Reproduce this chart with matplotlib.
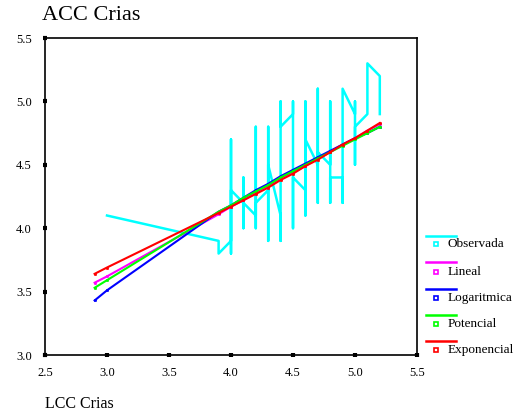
import matplotlib
matplotlib.use("Agg")
import matplotlib.pyplot as plt
from matplotlib.lines import Line2D

plt.rcParams['font.family'] = ['Liberation Serif', 'DejaVu Serif']

# Observed cases (LCC, ACC), in the order SPSS joins them
obs_x = [3.0,
         3.9, 3.9,
         4.0, 4.0, 4.0, 4.0,
         4.1, 4.1, 4.1, 4.1,
         4.2, 4.2, 4.2, 4.2,
         4.3, 4.3, 4.3, 4.3,
         4.4, 4.4, 4.4, 4.4,
         4.5, 4.5, 4.5, 4.5,
         4.6, 4.6, 4.6, 4.6,
         4.7, 4.7, 4.7, 4.7,
         4.8, 4.8, 4.8, 4.8,
         4.9, 4.9, 4.9,
         5.0, 5.0, 5.0, 5.0,
         5.1, 5.1,
         5.2, 5.2]
obs_y = [4.1,
         3.9, 3.8,
         3.9, 4.7, 3.8, 4.3,
         4.2, 4.4, 4.0, 4.2,
         4.1, 4.8, 4.0, 4.2,
         4.3, 4.8, 3.9, 4.5,
         4.1, 3.9, 5.0, 4.8,
         4.9, 5.0, 4.0, 4.4,
         4.3, 5.0, 4.1, 4.7,
         4.5, 5.1, 4.2, 4.6,
         4.5, 5.0, 4.2, 4.4,
         4.4, 4.2, 5.1,
         4.9, 5.0, 4.5, 4.8,
         4.9, 5.3,
         5.2, 4.9]

# Fitted values
fit_x = [2.9, 3.0, 3.9, 4.0, 4.1, 4.2, 4.3, 4.4, 4.5, 4.6, 4.7, 4.8, 4.9, 5.0, 5.1, 5.2]
lineal = [3.57, 3.62, 4.11, 4.17, 4.22, 4.28, 4.33, 4.39, 4.44, 4.49, 4.55, 4.60, 4.66, 4.71, 4.77, 4.82]
logaritmica = [3.43, 3.51, 4.13, 4.18, 4.24, 4.30, 4.35, 4.41, 4.46, 4.51, 4.56, 4.61, 4.66, 4.71, 4.75, 4.80]
potencial = [3.53, 3.59, 4.13, 4.18, 4.24, 4.29, 4.34, 4.40, 4.45, 4.50, 4.55, 4.60, 4.65, 4.70, 4.75, 4.80]
exponencial = [3.64, 3.69, 4.12, 4.17, 4.22, 4.27, 4.32, 4.38, 4.43, 4.49, 4.54, 4.60, 4.66, 4.71, 4.77, 4.83]

nombres = ['Observada', 'Lineal', 'Logaritmica', 'Potencial', 'Exponencial']
colores = ['#00ffff', '#ff00ff', '#0000ff', '#00ff00', '#ff0000']

fig = plt.figure(figsize=(5.21, 4.15), dpi=100)
ax = fig.add_axes([45/521, 60/415, 372/521, 317/415])

ax.plot(obs_x, obs_y, color=colores[0], lw=1.8)
for ys, c in zip([lineal, logaritmica, potencial, exponencial], colores[1:]):
    ax.plot(fit_x, ys, color=c, lw=1.5, marker='s', ms=1.3, mew=0.6)

ax.set_xlim(2.5, 5.5)
ax.set_ylim(3.0, 5.5)
ax.set_xticks([2.5, 3.0, 3.5, 4.0, 4.5, 5.0, 5.5])
ax.set_yticks([3.0, 3.5, 4.0, 4.5, 5.0, 5.5])
ax.set_xticklabels(['2.5', '3.0', '3.5', '4.0', '4.5', '5.0', '5.5'], fontsize=9)
ax.set_yticklabels(['3.0', '3.5', '4.0', '4.5', '5.0', '5.5'], fontsize=9)
ax.tick_params(axis='x', direction='inout', length=3, width=3, pad=7)
ax.tick_params(axis='y', direction='inout', length=3, width=3, pad=8)
for s in ax.spines.values():
    s.set_linewidth(1.2)

fig.text(42/521, 1 - 16/415, 'ACC Crias', fontsize=16, va='center', ha='left')
fig.text(45/521, 1 - 404/415, 'LCC Crias', fontsize=11.5, va='center', ha='left')

# legend drawn by hand, SPSS style: line row then marker + label row
linea_y = [236, 262, 289, 315, 341]
marca_y = [244, 272, 298, 324, 350]
for nombre, c, ly, my in zip(nombres, colores, linea_y, marca_y):
    fig.add_artist(Line2D([426/521, 456/521], [1 - ly/415, 1 - ly/415], color=c, lw=1.8))
    fig.add_artist(Line2D([436/521], [1 - my/415], color=c, marker='s', ms=3, mfc='white', mew=1.2, lw=0))
    fig.text(448/521, 1 - my/415, nombre, fontsize=9.5, va='center', ha='left')

fig.savefig('out.png', dpi=100)
